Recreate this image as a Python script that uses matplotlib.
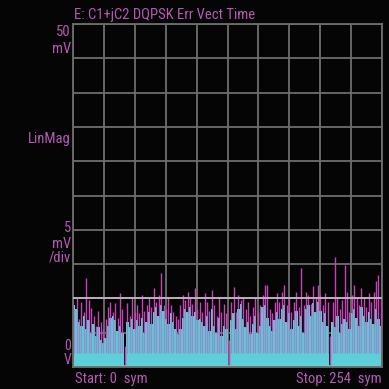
import numpy as np
import matplotlib
matplotlib.use("Agg")
import matplotlib.pyplot as plt

# error vector magnitude (mV), one value every 2 symbols, 0..254
symbols = np.arange(0, 255, 2)
cyan_mv = [
    9.0, 8.5, 6.5, 6.0, 7.5, 5.5,
    6.8, 5.0, 6.2, 4.5, 5.8,
    4.0, 3.5, 4.2, 6.0, 7.2,
    7.5, 6.8, 5.2, 6.0, 5.0,
    0.3,
    6.5, 5.8, 7.0, 5.5, 6.8, 6.0,
    7.2, 5.0, 6.5, 8.0, 6.2,
    8.0, 8.8, 7.5, 9.0, 8.2,
    7.0, 6.2, 7.8, 6.5, 5.5,
    4.8, 5.5, 7.2, 8.5, 8.0,
    8.8, 7.5, 8.0, 6.8, 7.0,
    6.5, 6.0, 7.5, 5.2, 8.5,
    6.0, 5.0, 7.2, 4.5, 6.0, 5.5,
    0.3,
    6.8, 7.8, 5.5, 8.5, 9.2,
    7.0, 5.8, 6.5, 4.8, 6.2,
    7.5, 5.0, 6.0, 8.8, 9.0,
    7.2, 6.0, 5.2, 6.8, 8.0,
    7.0, 8.5, 9.0, 6.5, 7.8,
    5.5, 6.8, 8.2, 6.0, 7.5, 5.0,
    8.5, 9.0, 7.5, 9.3, 8.0,
    9.5, 8.2, 6.5, 7.8, 6.0,
    0.3,
    6.5, 5.8, 7.5, 5.0, 6.2,
    7.0, 6.5, 5.5, 7.8, 8.5,
    7.2, 6.0, 8.8, 7.5, 6.5,
    8.0, 7.0, 6.2, 8.5, 7.0, 6.0,
]
magenta_mv = [
    8.5, 10.0, 7.0, 9.5, 8.0, 13.0,
    9.8, 8.6, 7.5, 6.0, 8.2,
    6.5, 5.5, 7.0, 8.8, 9.5,
    8.0, 9.3, 7.2, 10.8, 8.5,
    3.0,
    9.3, 7.5, 10.0, 8.0, 9.0, 7.8,
    10.5, 8.2, 9.0, 10.0, 8.8,
    11.5, 9.5, 10.5, 13.7, 9.0,
    8.5, 10.2, 9.0, 8.0, 7.5,
    7.0, 9.0, 10.5, 9.8, 11.0,
    10.0, 9.2, 11.5, 8.5, 9.5,
    8.0, 10.8, 9.5, 8.2, 11.2,
    9.0, 7.5, 10.0, 8.0, 9.2, 7.8,
    4.0,
    9.5, 11.7, 8.0, 10.5, 9.8,
    10.0, 8.5, 9.5, 7.5, 8.8,
    10.2, 8.0, 9.0, 10.5, 12.0,
    12.0, 8.5, 7.8, 9.5, 10.8,
    9.5, 11.0, 12.0, 9.0, 10.2,
    8.0, 9.5, 11.0, 8.8, 14.4, 9.0,
    11.0, 10.5, 9.2, 11.8, 10.0,
    12.0, 10.5, 9.0, 10.8, 9.5,
    4.5,
    9.5, 16.0, 10.0, 8.5, 9.8,
    14.9, 11.0, 8.0, 10.5, 12.0,
    10.0, 9.0, 11.5, 10.2, 8.8,
    10.8, 9.5, 11.0, 12.5, 13.4, 10.0,
]

txt_col = "#b45ab4"
grid_col = "#6e6e6e"
mag_col = "#c444b6"
font = ["Roboto Condensed", "DejaVu Sans"]

fig = plt.figure(figsize=(3.89, 3.89), dpi=100, facecolor="#050505")
ax = fig.add_axes([73/389, 1 - 367/389, 309/389, 343/389])
ax.set_facecolor("#050505")

ax.set_xlim(-1, 255)
ax.set_ylim(0, 50)
ax.set_xticks(np.linspace(-1, 255, 11))
ax.set_yticks(np.arange(0, 51, 5))
ax.tick_params(length=0, labelleft=False, labelbottom=False)
ax.grid(True, color=grid_col, lw=1.3, zorder=0)
ax.set_axisbelow(True)
for sp in ax.spines.values():
    sp.set_color(grid_col)
    sp.set_linewidth(1.3)

cy = np.array(cyan_mv)
mg = np.array(magenta_mv)
ax.fill_between(symbols, cy, step="mid", color="#5dcfd8", lw=0, zorder=2)
# magenta trace: faint where it runs through the cyan, solid above it
ax.vlines(symbols, 2.0, np.minimum(cy, mg), color=mag_col, lw=1.0,
          alpha=0.45, zorder=3)
ax.vlines(symbols, np.minimum(cy, mg), mg, color=mag_col, lw=1.0, zorder=3)
ax.axhline(10, color="#cbbcc8", lw=1.2, zorder=4)

def lab(px_x, px_y, s, ha="right", size=10.5):
    fig.text(px_x/389, 1 - px_y/389, s, color=txt_col, fontsize=size,
             family=font, ha=ha, va="baseline")

lab(74, 19, "E: C1+jC2 DQPSK Err Vect Time", ha="left")
lab(71, 36, "50")
lab(71, 53, "mV")
lab(71, 143, "LinMag")
lab(71, 232, "5")
lab(71, 248, "mV")
lab(71, 262, "/div")
lab(71, 350, "0", size=10)
lab(71, 364, "V", size=10)
lab(75, 383, "Start: 0  sym", ha="left")
lab(382, 383, "Stop: 254  sym")

fig.savefig("out.png", dpi=100, facecolor=fig.get_facecolor())
